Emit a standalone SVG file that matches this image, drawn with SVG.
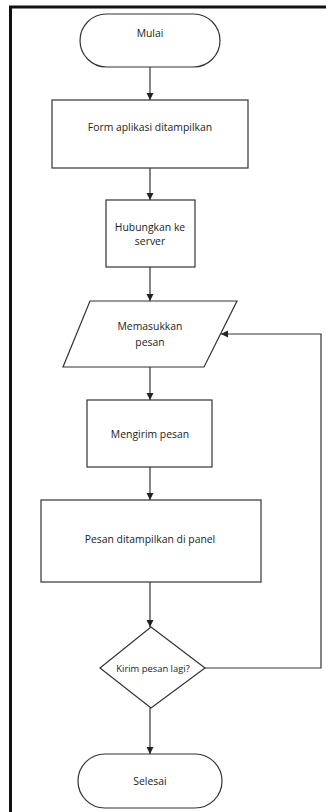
<svg xmlns="http://www.w3.org/2000/svg" width="326" height="812" viewBox="0 0 326 812">
<style>
.s{fill:#fff;stroke:#333;stroke-width:1.2}
.t{font-family:"Open Sans","Liberation Sans",sans-serif;font-size:10.4px;fill:#222;text-anchor:middle;dominant-baseline:central}
.c{fill:none;stroke:#333;stroke-width:1.2}
</style>
<defs>
<marker id="a" markerWidth="8" markerHeight="8" refX="7" refY="4" orient="auto" markerUnits="userSpaceOnUse">
<path d="M0,0.5 L7,4 L0,7.5 Z" fill="#222"/>
</marker>
</defs>
<rect width="326" height="812" fill="#fff"/>
<g id="frame">
<path d="M10.5,812 V7 H326" fill="none" stroke="#111" stroke-width="3"/>
</g>
<g id="connectors">
<path class="c" d="M150,67 V100" marker-end="url(#a)"/>
<path class="c" d="M150,168 V200" marker-end="url(#a)"/>
<path class="c" d="M150,267 V301" marker-end="url(#a)"/>
<path class="c" d="M150,367 V400" marker-end="url(#a)"/>
<path class="c" d="M150,467 V500" marker-end="url(#a)"/>
<path class="c" d="M150,582 V627" marker-end="url(#a)"/>
<path class="c" d="M150,708 V754" marker-end="url(#a)"/>
<path class="c" d="M205,668 H321 V334 H221" marker-end="url(#a)"/>
</g>
<g id="mulai">
<rect class="s" x="80" y="14" width="140" height="53" rx="26.5"/>
<text class="t" x="150" y="33">Mulai</text>
</g>
<g id="form">
<rect class="s" x="52" y="100" width="196" height="68"/>
<text class="t" x="150" y="127">Form aplikasi ditampilkan</text>
</g>
<g id="hubungkan">
<rect class="s" x="106" y="200" width="89" height="67"/>
<text class="t" x="150" y="227">Hubungkan ke</text>
<text class="t" x="150" y="241">server</text>
</g>
<g id="memasukkan">
<path class="s" d="M90,301 H237 L204,367 H63 Z"/>
<text class="t" x="150" y="326">Memasukkan</text>
<text class="t" x="150" y="342">pesan</text>
</g>
<g id="mengirim">
<rect class="s" x="87" y="400" width="125" height="67"/>
<text class="t" x="150" y="434">Mengirim pesan</text>
</g>
<g id="panel">
<rect class="s" x="41" y="500" width="220" height="82"/>
<text class="t" x="150" y="539">Pesan ditampilkan di panel</text>
</g>
<g id="kirim">
<path class="s" d="M151,627 L205,668 L151,708 L100,668 Z"/>
<text class="t" x="153" y="668" style="font-size:9.4px">Kirim pesan lagi?</text>
</g>
<g id="selesai">
<rect class="s" x="78" y="754" width="144" height="54" rx="27"/>
<text class="t" x="150" y="781">Selesai</text>
</g>
</svg>
